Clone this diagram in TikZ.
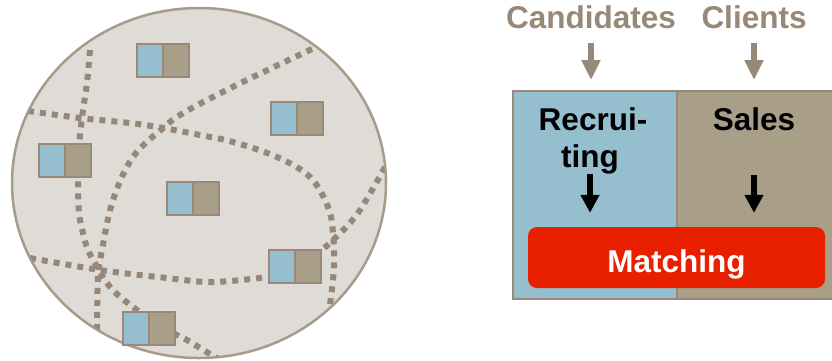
\documentclass[tikz,border=0pt]{standalone}
\usepackage{fontspec}
\setmainfont{Liberation Sans}
\usetikzlibrary{arrows.meta,shapes.geometric}
\definecolor{circfill}{HTML}{DFDBD6}
\definecolor{circedge}{HTML}{A59C89}
\definecolor{dotc}{HTML}{968779}
\definecolor{boxedge}{HTML}{9A8878}
\definecolor{blu}{HTML}{95BECF}
\definecolor{tanc}{HTML}{A99F89}
\definecolor{mred}{HTML}{E82000}
\definecolor{graytxt}{HTML}{978878}
\begin{document}
\begin{tikzpicture}[x=1pt,y=-1pt,
  dotline/.style={draw=dotc, line width=6pt, dash pattern=on 6pt off 6pt},
  halfbox/.style={draw=boxedge, line width=2pt, minimum width=26pt, minimum height=33pt, inner sep=0pt, anchor=north west},
  bluebox/.style={halfbox, fill=blu},
  tanbox/.style={halfbox, fill=tanc},
  bigtxt/.style={font=\bfseries\fontsize{31.5}{36}\selectfont, inner sep=0pt, anchor=base},
  grayarrow/.style={draw=graytxt, line width=6.5pt, -{Triangle[width=18pt,length=20pt]}},
  blkarrow/.style={draw=black, line width=5.5pt, -{Triangle[width=18pt,length=18pt]}},
  panel/.style={draw=boxedge, line width=2pt, minimum height=208pt, inner sep=0pt, anchor=north west}
]
\useasboundingbox (0,0) rectangle (832,360);

% ---- left: the market circle ----
\node[draw=circedge, fill=circfill, line width=2.5pt, ellipse, minimum width=374pt, minimum height=350pt, inner sep=0pt] (market) at (199,183) {};
\begin{scope}
  \clip (199,183) ellipse [x radius=186pt, y radius=174pt];
  \draw[dotline] plot[smooth, tension=0.6] coordinates {(90,50) (87,83) (83,110) (80,135) (78,160) (78,182) (79,213) (83,233) (88,250) (97,267) (107,283) (118,295) (133,307) (153,322) (173,333) (187,340) (200,348) (220,360)};
  \draw[dotline] plot[smooth, tension=0.6] coordinates {(28,111) (80,118) (130,123) (163,128) (200,135) (233,142) (277,157) (310,177) (328,207) (333,233) (334,267) (330,305)};
  \draw[dotline] plot[smooth, tension=0.6] coordinates {(312,49) (253,77) (207,100) (180,115) (163,128) (133,157) (113,200) (102,250) (98,277) (97,330)};
  \draw[dotline] plot[smooth, tension=0.6] coordinates {(30,258) (100,270) (167,278) (213,282) (268,277)};
  \draw[dotline] plot[smooth, tension=0.6] coordinates {(385,167) (358,213) (333,240) (318,253)};
\end{scope}

\node[bluebox] (b1l) at (136,43) {};  \node[tanbox] (b1r) at (162,43) {};
\node[bluebox] (b2l) at (270,101) {}; \node[tanbox] (b2r) at (296,101) {};
\node[bluebox] (b3l) at (38,143) {};  \node[tanbox] (b3r) at (64,143) {};
\node[bluebox] (b4l) at (166,181) {}; \node[tanbox] (b4r) at (192,181) {};
\node[bluebox] (b5l) at (268,249) {}; \node[tanbox] (b5r) at (294,249) {};
\node[bluebox] (b6l) at (122,311) {}; \node[tanbox] (b6r) at (148,311) {};

% ---- right: the process panel ----
\node[panel, fill=blu, minimum width=164pt] (rec) at (512,90) {};
\node[panel, fill=tanc, minimum width=160pt] (sales) at (676,90) {};

\node[bigtxt, text=graytxt] (cand) at (591,28) {Candidates};
\node[bigtxt, text=graytxt] (cli) at (754,28) {Clients};

\node[bigtxt] (rec1) at (593,130) {Recrui-};
\node[bigtxt] (rec2) at (590,167) {ting};
\node[bigtxt] (salestxt) at (754,130) {Sales};

\node[fill=mred, rounded corners=9pt, minimum width=297pt, minimum height=61pt, inner sep=0pt,
      text=white, font=\bfseries\fontsize{31.5}{36}\selectfont, text height=29pt, text depth=0pt]
      (match) at (676.5,257.5) {Matching};

\draw[grayarrow, shorten <=14pt, shorten >=10pt] (cand.south) -- (cand.south |- rec.north);
\draw[grayarrow, shorten <=14pt, shorten >=10pt] (cli.south) -- (cli.south |- sales.north);

\draw[blkarrow, shorten <=0pt, shorten >=14pt] (rec2.south) -- (rec2.south |- match.north);
\draw[blkarrow, shorten <=44pt, shorten >=14pt] (salestxt.south) -- (salestxt.south |- match.north);
\end{tikzpicture}
\end{document}
